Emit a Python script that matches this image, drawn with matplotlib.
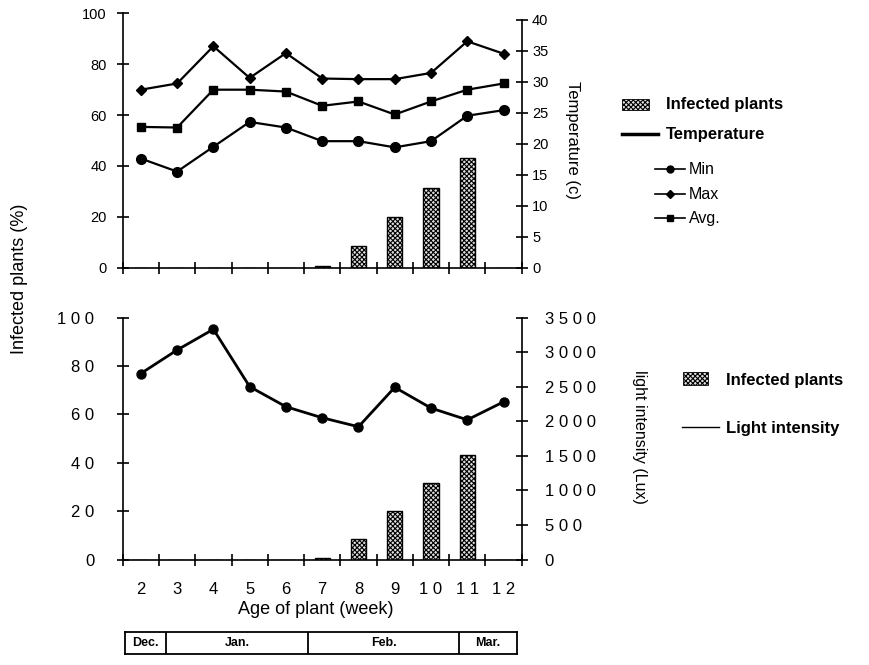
import matplotlib
matplotlib.use("Agg")
import matplotlib.pyplot as plt
from matplotlib.lines import Line2D
from matplotlib.patches import Rectangle

plt.rcParams['font.family'] = ['Liberation Sans', 'DejaVu Sans']
plt.rcParams['hatch.linewidth'] = 0.8

# ---------------- data ----------------
weeks = [2, 3, 4, 5, 6, 7, 8, 9, 10, 11, 12]
week_labels = ["2", "3", "4", "5", "6", "7", "8", "9", "1 0", "1 1", "1 2"]
infected = [0, 0, 0, 0, 0, 0.5, 8.5, 20, 31.5, 43.3, 0]
temp_max = [28.7, 29.7, 35.7, 30.6, 34.6, 30.5, 30.4, 30.4, 31.4, 36.5, 34.5]
temp_avg = [22.7, 22.6, 28.7, 28.7, 28.4, 26.1, 26.8, 24.7, 26.8, 28.7, 29.7]
temp_min = [17.6, 15.5, 19.5, 23.5, 22.6, 20.4, 20.4, 19.4, 20.4, 24.5, 25.4]
light = [2690, 3030, 3330, 2500, 2210, 2050, 1920, 2490, 2190, 2020, 2280]

pct_ticks = [0, 20, 40, 60, 80, 100]
temp_ticks = [0, 5, 10, 15, 20, 25, 30, 35, 40]
lux_ticks = [0, 500, 1000, 1500, 2000, 2500, 3000, 3500]
lux_tick_labels = ["0", "5 0 0", "1 0 0 0", "1 5 0 0", "2 0 0 0", "2 5 0 0", "3 0 0 0", "3 5 0 0"]
pct_tick_labels_spaced = ["0", "2 0", "4 0", "6 0", "8 0", "1 0 0"]
months = ["Dec.", "Jan.", "Feb.", "Mar."]
month_bounds = [1.45, 2.6, 6.55, 10.75, 12.35]

W, H = 870, 665
fig = plt.figure(figsize=(W / 100, H / 100), dpi=100)


def fx(px):
    return px / W


def fy(py):
    return 1 - py / H


HATCH = 'xxxxxxx'
BAR_FACE = '#e0e0e0'
bar_kw = dict(width=0.42, color=BAR_FACE, edgecolor='black', hatch=HATCH, linewidth=1.0, zorder=2)
tick_kw = dict(direction='inout', length=9, width=1.2, color='black')

# ---------------- top axes ----------------
x0, x1 = 122.7, 521.7
ax1 = fig.add_axes([fx(x0), fy(267.7), fx(x1) - fx(x0), fy(13.4) - fy(267.7)])
ax1.bar(weeks, infected, **bar_kw)
ax1.set_xlim(1.5, 12.5)
ax1.set_ylim(0, 100)
ax1.set_yticks(pct_ticks)
ax1.set_xticks([w - 0.5 for w in weeks] + [12.5])
ax1.set_xticklabels([])
ax1.tick_params(axis='both', **tick_kw)
ax1.tick_params(axis='y', labelsize=10.5, pad=7)
for s in ['top', 'right']:
    ax1.spines[s].set_visible(False)
for s in ['left', 'bottom']:
    ax1.spines[s].set_linewidth(1.2)

ax1r = ax1.twinx()
ax1r.set_ylim(0, 41.0)
ax1r.plot(weeks, temp_max, color='black', lw=1.6, marker='D', ms=5.5, zorder=3)
ax1r.plot(weeks, temp_avg, color='black', lw=1.6, marker='s', ms=6, zorder=3)
ax1r.plot(weeks, temp_min, color='black', lw=1.6, marker='o', ms=7, zorder=3)
ax1r.set_yticks(temp_ticks)
ax1r.tick_params(axis='y', labelsize=10.5, pad=3, **tick_kw)
for s in ['top', 'left', 'bottom']:
    ax1r.spines[s].set_visible(False)
ax1r.spines['right'].set_linewidth(1.2)
ax1r.spines['right'].set_bounds(0, 40)

# ---------------- bottom axes ----------------
ax2 = fig.add_axes([fx(x0), fy(559.5), fx(x1) - fx(x0), fy(317.5) - fy(559.5)])
ax2.bar(weeks, infected, **bar_kw)
ax2.set_xlim(1.5, 12.5)
ax2.set_ylim(0, 100)
ax2.set_yticks(pct_ticks)
ax2.set_yticklabels(pct_tick_labels_spaced)
ax2.set_xticks([w - 0.5 for w in weeks] + [12.5])
ax2.set_xticklabels([])
ax2.set_xticks(weeks, minor=True)
ax2.set_xticklabels(week_labels, minor=True)
ax2.tick_params(axis='both', **tick_kw)
ax2.tick_params(axis='x', which='minor', length=0, labelsize=12, pad=16)
ax2.tick_params(axis='y', labelsize=12, pad=16)
for s in ['top', 'right']:
    ax2.spines[s].set_visible(False)
for s in ['left', 'bottom']:
    ax2.spines[s].set_linewidth(1.2)

ax2r = ax2.twinx()
ax2r.set_ylim(0, 3500)
ax2r.plot(weeks, light, color='black', lw=2.0, marker='o', ms=6.5, zorder=3)
ax2r.set_yticks(lux_ticks)
ax2r.set_yticklabels(lux_tick_labels)
ax2r.tick_params(axis='y', labelsize=12, pad=12, **tick_kw)
for s in ['top', 'left', 'bottom']:
    ax2r.spines[s].set_visible(False)
ax2r.spines['right'].set_linewidth(1.2)

# ---------------- axis labels ----------------
fig.text(fx(20), fy(279), "Infected plants (%)", rotation=90, ha='center', va='center', fontsize=13)
fig.text(fx(573), fy(140), "Temperature (c)", rotation=-90, ha='center', va='center', fontsize=12)
fig.text(fx(640), fy(437), "light intensity (Lux)", rotation=-90, ha='center', va='center', fontsize=11.5)
fig.text(fx(316), fy(610), "Age of plant (week)", ha='center', va='center', fontsize=13)

# ---------------- legends ----------------
def hatch_patch(xa, xb, ya, yb):
    r = Rectangle((fx(xa), fy(yb)), fx(xb) - fx(xa), fy(ya) - fy(yb), transform=fig.transFigure,
                  facecolor=BAR_FACE, edgecolor='black', hatch=HATCH, linewidth=0.6)
    fig.add_artist(r)


def leg_line(xa, xb, y, lw=1.5, marker=None, ms=5):
    xm = (xa + xb) / 2
    fig.add_artist(Line2D([fx(xa), fx(xb)], [fy(y), fy(y)], transform=fig.transFigure, color='black', lw=lw))
    if marker:
        fig.add_artist(Line2D([fx(xm)], [fy(y)], transform=fig.transFigure, color='black', lw=0,
                              marker=marker, ms=ms))


hatch_patch(622, 649, 99, 110)
fig.text(fx(666), fy(104), "Infected plants", fontsize=12, fontweight='bold', va='center')
leg_line(622, 658, 133.5, lw=2.5)
fig.text(fx(666), fy(135), "Temperature", fontsize=12, fontweight='bold', va='center')
leg_line(655, 685, 168.5, lw=1.2, marker='o', ms=5)
fig.text(fx(689), fy(169), "Min", fontsize=11.5, va='center')
leg_line(655, 685, 193.5, lw=1.2, marker='D', ms=4)
fig.text(fx(689), fy(194), "Max", fontsize=11.5, va='center')
leg_line(655, 685, 218.5, lw=1.2, marker='s', ms=5)
fig.text(fx(689), fy(219), "Avg.", fontsize=11.5, va='center')

hatch_patch(683, 708, 372, 385)
fig.text(fx(726), fy(381), "Infected plants", fontsize=12, fontweight='bold', va='center')
leg_line(682, 719, 427, lw=1.0)
fig.text(fx(726), fy(428), "Light intensity", fontsize=12, fontweight='bold', va='center')

# ---------------- month table ----------------
tab = fig.add_axes([fx(125), fy(653.5), fx(516.7) - fx(125), fy(631.5) - fy(653.5)])
tab.set_xlim(month_bounds[0], month_bounds[-1])
tab.set_ylim(0, 1)
tab.set_xticks([])
tab.set_yticks([])
for s in tab.spines.values():
    s.set_linewidth(1.3)
for b in month_bounds[1:-1]:
    tab.axvline(b, color='black', lw=1.3)
for i, m in enumerate(months):
    tab.text((month_bounds[i] + month_bounds[i + 1]) / 2, 0.5, m, ha='center', va='center',
             fontsize=9, fontweight='bold')

fig.savefig("out.png", dpi=100)
